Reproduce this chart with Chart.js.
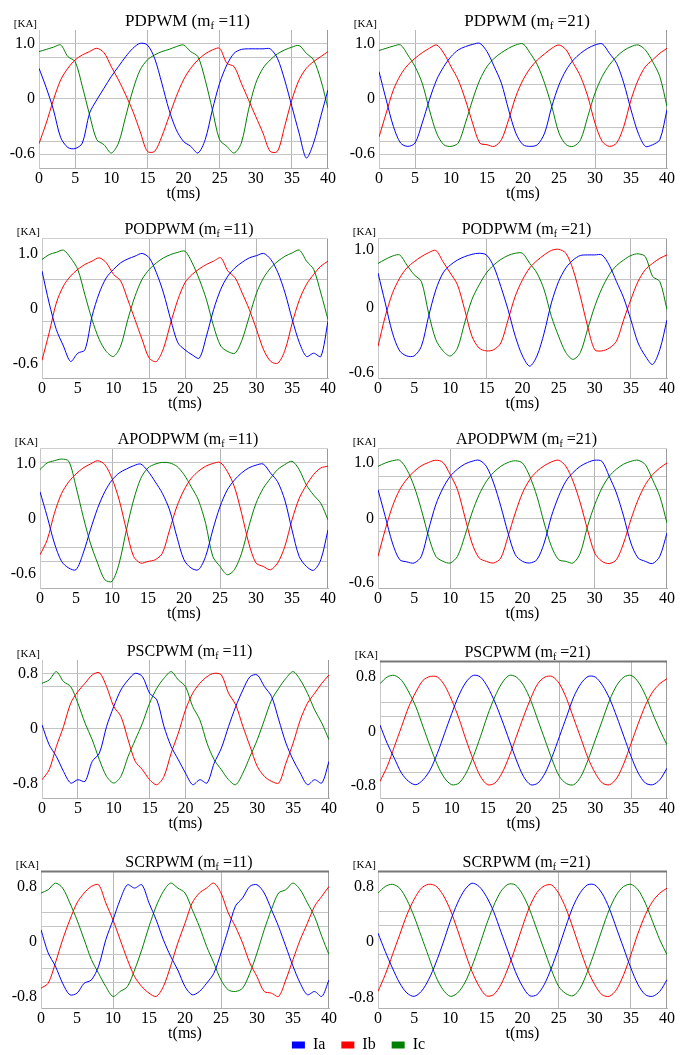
<!DOCTYPE html>
<html>
<head>
<meta charset="utf-8">
<script src="https://cdn.jsdelivr.net/npm/chart.js@4.4.0/dist/chart.umd.min.js"></script>
<style>
  body { margin: 0; background: #fff; width: 683px; height: 1055px; position: relative; overflow: hidden; }
  canvas { position: absolute; }
</style>
</head>
<body>
<script>
// time axis (ms), one sample per ms
const time = [0,1,2,3,4,5,6,7,8,9,10,11,12,13,14,15,16,17,18,19,20,21,22,23,24,25,26,27,28,29,30,31,32,33,34,35,36,37,38,39,40];
const xTicks = [0,5,10,15,20,25,30,35,40];

// currents, in units of the labelled gridlines (top label = 1, bottom label = -1)
// PDPWM mf=11
const pd11Ia = [0.55,0.2,-0.2,-0.7,-0.88,-0.9,-0.8,-0.26,-0.02,0.19, 0.4,0.58,0.76,0.91,1.0,0.97,0.73,0.28,-0.2,-0.56, -0.77,-0.86,-0.98,-0.74,-0.2,0.28,0.61,0.82,0.89,0.9, 0.9,0.9,0.9,0.73,0.34,-0.14,-0.62,-1.07,-0.8,-0.32, 0.16];
const pd11Ib = [-0.81,-0.44,-0.02,0.34,0.55,0.7,0.79,0.85,0.91,0.83, 0.58,0.34,0.07,-0.23,-0.59,-0.95,-0.95,-0.68,-0.32,0.04, 0.34,0.55,0.7,0.81,0.88,0.91,0.64,0.58,0.28,-0.02, -0.32,-0.62,-0.95,-0.95,-0.5,-0.02,0.34,0.55,0.67,0.76, 0.85];
const pd11Ic = [0.85,0.89,0.93,0.97,0.76,0.67,0.22,-0.29,-0.74,-0.83, -0.98,-0.8,-0.32,0.16,0.52,0.7,0.79,0.85,0.89,0.94, 0.97,0.85,0.76,0.34,-0.2,-0.74,-0.86,-0.98,-0.8,-0.2, 0.28,0.55,0.7,0.81,0.88,0.93,0.96,0.82,0.7,0.34, -0.17];
// PDPWM mf=21
const pd21Ia = [0.49,-0.02,-0.5,-0.8,-0.86,-0.8,-0.44,-0.02,0.34,0.58, 0.76,0.88,0.94,0.98,1.0,0.85,0.58,0.28,-0.2,-0.62, -0.83,-0.86,-0.83,-0.62,-0.14,0.25,0.52,0.7,0.82,0.91, 0.97,0.99,0.82,0.64,0.28,-0.2,-0.62,-0.86,-0.83,-0.74, -0.2];
const pd21Ib = [-0.69,-0.26,0.16,0.43,0.61,0.73,0.83,0.91,0.97,0.82, 0.58,0.34,-0.02,-0.44,-0.8,-0.83,-0.86,-0.74,-0.38,0.04, 0.34,0.55,0.7,0.81,0.91,0.97,0.88,0.64,0.4,0.04, -0.44,-0.77,-0.86,-0.8,-0.5,-0.02,0.34,0.58,0.7,0.82, 0.91];
const pd21Ic = [0.87,0.91,0.95,0.97,0.79,0.58,0.28,-0.2,-0.62,-0.83, -0.86,-0.8,-0.44,-0.02,0.34,0.58,0.73,0.83,0.91,0.97, 0.99,0.82,0.61,0.28,-0.14,-0.62,-0.83,-0.86,-0.74,-0.32, 0.1,0.4,0.61,0.76,0.87,0.94,0.97,0.88,0.67,0.4, -0.14];
// PODPWM mf=11
const pod11Ia = [0.68,0.1,-0.38,-0.68,-0.96,-0.81,-0.75,-0.14,0.28,0.56, 0.71,0.83,0.9,0.95,1.0,0.92,0.65,0.28,-0.2,-0.62, -0.75,-0.84,-0.9,-0.5,-0.02,0.35,0.59,0.74,0.84,0.92, 0.96,1.0,0.89,0.65,0.28,-0.2,-0.62,-0.87,-0.81,-0.87, -0.23];
const pod11Ib = [-0.94,-0.44,0.1,0.41,0.59,0.71,0.8,0.86,0.92,0.83, 0.62,0.5,0.16,-0.2,-0.56,-0.9,-0.96,-0.72,-0.26,0.16, 0.47,0.62,0.72,0.8,0.86,0.92,0.68,0.56,0.28,-0.02, -0.38,-0.75,-0.96,-0.99,-0.75,-0.26,0.16,0.44,0.62,0.77, 0.86];
const pod11Ic = [0.89,0.98,1.02,1.06,0.92,0.71,0.25,-0.2,-0.56,-0.78, -0.87,-0.68,-0.2,0.22,0.53,0.71,0.83,0.92,0.98,1.02, 1.04,0.83,0.53,0.16,-0.32,-0.68,-0.78,-0.81,-0.56,-0.14, 0.28,0.56,0.74,0.86,0.95,1.01,1.06,0.86,0.71,0.28, -0.2];
// PODPWM mf=21
const pod21Ia = [0.62,0.09,-0.44,-0.76,-0.85,-0.85,-0.68,-0.15,0.32,0.62, 0.76,0.85,0.91,0.95,0.97,0.94,0.74,0.38,-0.03,-0.5, -0.85,-1.03,-0.85,-0.44,0.09,0.47,0.71,0.85,0.93,0.94, 0.94,0.94,0.76,0.47,0.18,-0.21,-0.62,-0.85,-1.0,-0.74, -0.21];
const pod21Ib = [-0.68,-0.15,0.26,0.53,0.71,0.82,0.91,0.98,1.02,0.82, 0.62,0.41,-0.03,-0.5,-0.71,-0.76,-0.74,-0.62,-0.21,0.21, 0.5,0.71,0.84,0.94,1.02,1.04,0.97,0.68,0.21,-0.32, -0.74,-0.76,-0.71,-0.59,-0.21,0.15,0.47,0.68,0.79,0.88, 0.94];
const pod21Ic = [0.79,0.86,0.92,0.94,0.76,0.59,0.47,-0.09,-0.56,-0.76, -0.85,-0.71,-0.26,0.15,0.41,0.62,0.76,0.86,0.93,0.97, 0.97,0.79,0.62,0.32,-0.15,-0.5,-0.79,-0.91,-0.79,-0.38, 0.03,0.35,0.59,0.75,0.85,0.93,0.96,0.91,0.56,0.47, -0.03];
// APODPWM mf=11
const apod11Ia = [0.49,0.04,-0.44,-0.77,-0.89,-0.92,-0.62,-0.2,0.19,0.49, 0.7,0.83,0.9,0.96,0.99,0.86,0.67,0.46,0.16,-0.32, -0.74,-0.89,-0.92,-0.68,-0.2,0.22,0.52,0.7,0.83,0.92, 0.97,0.99,0.83,0.67,0.34,-0.2,-0.68,-0.86,-0.93,-0.74, -0.2];
const apod11Ib = [-0.65,-0.38,0.1,0.46,0.67,0.81,0.92,0.99,1.05,0.98, 0.73,0.34,-0.2,-0.68,-0.8,-0.77,-0.74,-0.62,-0.2,0.22, 0.52,0.73,0.86,0.95,1.0,1.02,0.86,0.58,0.1,-0.44, -0.8,-0.86,-0.92,-0.8,-0.5,-0.02,0.37,0.61,0.8,0.92, 0.95];
const apod11Ic = [0.89,1.01,1.05,1.08,1.04,0.58,0.04,-0.44,-0.8,-1.1, -1.13,-0.8,-0.2,0.34,0.73,0.92,0.99,1.02,1.01,0.95, 0.8,0.58,0.34,-0.08,-0.68,-0.86,-1.01,-0.92,-0.62,-0.14, 0.28,0.55,0.73,0.89,0.98,1.04,0.89,0.61,0.43,0.28, -0.02];
// APODPWM mf=21
const apod21Ia = [0.52,0.04,-0.44,-0.74,-0.78,-0.8,-0.68,-0.2,0.25,0.55, 0.76,0.89,0.98,1.03,1.05,0.94,0.64,0.22,-0.26,-0.65, -0.77,-0.8,-0.74,-0.44,0.04,0.4,0.67,0.83,0.94,1.01, 1.05,1.03,0.76,0.46,0.04,-0.44,-0.71,-0.77,-0.81,-0.68, -0.26];
const apod21Ib = [-0.68,-0.2,0.22,0.52,0.71,0.85,0.95,1.01,1.05,1.01, 0.79,0.52,0.04,-0.44,-0.71,-0.77,-0.8,-0.71,-0.32,0.1, 0.46,0.7,0.85,0.95,1.02,1.05,0.94,0.67,0.28,-0.2, -0.62,-0.77,-0.81,-0.74,-0.44,-0.02,0.34,0.61,0.79,0.91, 1.0];
const apod21Ic = [0.94,1.0,1.04,1.05,0.88,0.58,0.16,-0.32,-0.68,-0.77, -0.8,-0.68,-0.32,0.1,0.43,0.67,0.83,0.94,1.01,1.04, 1.0,0.76,0.4,-0.08,-0.5,-0.74,-0.77,-0.8,-0.62,-0.14, 0.25,0.55,0.76,0.89,0.98,1.03,1.05,0.97,0.7,0.4, -0.08];
// PSCPWM mf=11
const psc11Ia = [0.07,-0.29,-0.5,-0.77,-0.98,-0.92,-0.95,-0.59,-0.44,0.04, 0.4,0.7,0.88,1.0,0.94,0.64,0.52,0.04,-0.32,-0.56, -0.8,-1.01,-0.92,-0.98,-0.62,-0.35,0.04,0.4,0.7,0.94, 0.97,0.76,0.58,0.16,-0.26,-0.56,-0.8,-1.01,-0.92,-0.98, -0.59];
const psc11Ib = [-0.92,-0.74,-0.32,0.04,0.46,0.67,0.82,0.97,1.01,0.76, 0.4,0.22,-0.2,-0.59,-0.74,-0.92,-1.01,-0.86,-0.44,-0.08, 0.34,0.64,0.82,0.94,1.0,0.97,0.64,0.43,0.04,-0.32, -0.68,-0.86,-0.95,-0.98,-0.62,-0.26,0.16,0.46,0.64,0.82, 0.97];
const psc11Ic = [0.82,0.88,1.03,0.85,0.76,0.46,0.1,-0.2,-0.56,-0.86, -0.98,-0.86,-0.5,-0.2,0.1,0.46,0.73,0.91,1.03,0.88, 0.76,0.4,0.16,-0.26,-0.56,-0.74,-0.92,-1.01,-0.8,-0.5, -0.2,0.16,0.52,0.73,0.91,1.03,0.88,0.64,0.34,0.1, -0.2];
// PSCPWM mf=21
const psc21Ia = [0.1,-0.23,-0.5,-0.77,-0.92,-0.98,-0.89,-0.71,-0.41,-0.05, 0.31,0.64,0.88,1.0,0.97,0.79,0.52,0.19,-0.17,-0.53, -0.83,-0.98,-0.95,-0.77,-0.47,-0.11,0.25,0.61,0.85,0.98, 0.97,0.82,0.58,0.25,-0.11,-0.47,-0.77,-0.95,-0.98,-0.89, -0.68];
const psc21Ib = [-0.92,-0.65,-0.29,0.07,0.43,0.7,0.91,0.98,0.97,0.82, 0.55,0.22,-0.17,-0.53,-0.83,-0.98,-0.95,-0.77,-0.47,-0.11, 0.25,0.58,0.85,0.97,0.98,0.85,0.58,0.22,-0.14,-0.5, -0.77,-0.95,-0.98,-0.86,-0.59,-0.23,0.13,0.46,0.7,0.85, 0.94];
const psc21Ic = [0.85,0.97,1.0,0.91,0.7,0.43,0.07,-0.29,-0.62,-0.86, -0.98,-0.95,-0.77,-0.47,-0.11,0.28,0.61,0.86,1.0,0.97, 0.82,0.55,0.19,-0.17,-0.53,-0.83,-0.96,-0.98,-0.83,-0.53, -0.17,0.19,0.55,0.82,0.97,1.0,0.88,0.64,0.31,0.01, -0.26];
// SCRPWM mf=11
const scr11Ia = [0.21,-0.21,-0.45,-0.76,-0.97,-0.94,-0.76,-0.7,-0.45,0.03, 0.39,0.76,1.03,0.97,1.03,0.7,0.39,0.03,-0.27,-0.52, -0.82,-0.97,-0.91,-0.76,-0.58,-0.21,0.21,0.64,0.79,1.0, 1.03,0.88,0.58,0.27,-0.09,-0.45,-0.76,-0.97,-0.91,-1.0, -0.7];
const scr11Ib = [-0.85,-0.76,-0.39,0.03,0.39,0.7,0.88,1.0,1.03,0.7, 0.39,0.03,-0.33,-0.64,-0.82,-0.94,-1.0,-0.82,-0.45,-0.03, 0.33,0.7,0.88,0.97,1.06,0.88,0.52,0.27,-0.03,-0.39, -0.64,-0.91,-0.94,-1.0,-0.7,-0.33,0.03,0.33,0.64,0.82, 1.0];
const scr11Ic = [0.88,0.94,1.06,0.97,0.7,0.39,0.03,-0.33,-0.58,-0.82, -1.0,-0.91,-0.82,-0.52,-0.15,0.27,0.64,0.91,1.06,0.97, 0.88,0.58,0.27,-0.09,-0.39,-0.7,-0.88,-0.91,-0.85,-0.58, -0.21,0.21,0.58,0.88,0.94,1.06,0.94,0.7,0.45,0.09, -0.24];
// SCRPWM mf=21
const scr21Ia = [0.14,-0.19,-0.49,-0.76,-0.94,-1.0,-0.91,-0.7,-0.4,-0.04, 0.35,0.68,0.92,1.04,0.98,0.8,0.53,0.17,-0.19,-0.55, -0.82,-0.99,-0.97,-0.79,-0.49,-0.13,0.26,0.62,0.87,1.01, 1.01,0.86,0.59,0.23,-0.13,-0.49,-0.79,-0.97,-1.0,-0.91, -0.7];
const scr21Ib = [-0.91,-0.61,-0.25,0.11,0.47,0.75,0.95,1.02,0.99,0.83, 0.56,0.2,-0.19,-0.55,-0.82,-0.99,-0.97,-0.79,-0.49,-0.13, 0.26,0.62,0.87,0.99,1.01,0.86,0.59,0.23,-0.16,-0.52, -0.79,-0.97,-1.0,-0.88,-0.61,-0.25,0.14,0.47,0.71,0.86, 0.95];
const scr21Ic = [0.86,0.98,1.02,0.95,0.74,0.44,0.08,-0.28,-0.64,-0.88, -1.0,-0.94,-0.76,-0.46,-0.1,0.29,0.63,0.89,1.02,1.01, 0.84,0.56,0.2,-0.16,-0.52,-0.82,-0.95,-0.99,-0.85,-0.55, -0.19,0.2,0.56,0.83,0.98,1.02,0.92,0.68,0.35,0.02,-0.25];

// y tick texts
const labels10 = ['1.0', '0', '-0.6'];
const labels08 = ['0.8', '0', '-0.8'];

const seriesNames = ['Ia', 'Ib', 'Ic'];
const seriesColors = ['#0000ff', '#ff0000', '#008000'];

const FONT = '"Liberation Serif", "Times New Roman", serif';

// panel layout: box = [plot left, plot top, plot right, plot bottom] in page pixels
const panels = [
    { name: 'PDPWM', mf: '11', data: [pd11Ia, pd11Ib, pd11Ic], box: [39, 30, 328, 168], row: 0, y: [-1.25, 1.24], lab: [1, 0, -1], txt: labels10, grid: [1, 0.75, 0, -0.77, -1], xGrid: [5, 15, 25, 35], top: 'none', tSize: 17 },
    { name: 'PDPWM', mf: '21', data: [pd21Ia, pd21Ib, pd21Ic], box: [379, 30, 667, 168], row: 0, y: [-1.25, 1.24], lab: [1, 0, -1], txt: labels10, grid: [1, 0.25, 0, -0.52, -0.77, -1], xGrid: [5, 30], top: 'none', tSize: 17 },
    { name: 'PODPWM', mf: '11', data: [pod11Ia, pod11Ib, pod11Ic], box: [42, 238, 328, 378], row: 1, y: [-1.26, 1.28], lab: [1, 0, -1], txt: labels10, grid: [0.53, -0.24, -0.49], xGrid: [15, 20, 30], top: 'light', tSize: 16 },
    { name: 'PODPWM', mf: '21', data: [pod21Ia, pod21Ib, pod21Ic], box: [378, 238, 667, 378], row: 1, y: [-1.24, 1.24], lab: [1.03, 0, -1.14], txt: labels10, grid: [0.5, -0.25], xGrid: [15, 35], top: 'light', tSize: 16 },
    { name: 'APODPWM', mf: '11', data: [apod11Ia, apod11Ib, apod11Ic], box: [40, 448, 328, 588], row: 2, y: [-1.25, 1.28], lab: [1, 0, -1], txt: labels10, grid: [1.02, 0.25, -0.52, -0.77], xGrid: [10, 25], top: 'light', tSize: 16 },
    { name: 'APODPWM', mf: '21', data: [apod21Ia, apod21Ib, apod21Ic], box: [378, 448, 667, 588], row: 2, y: [-1.25, 1.27], lab: [1, 0, -1.16], txt: labels10, grid: [0.76, 0.52, 0, -0.24], xGrid: [10, 30], top: 'light', tSize: 16 },
    { name: 'PSCPWM', mf: '11', data: [psc11Ia, psc11Ib, psc11Ic], box: [42, 660, 329, 798], row: 3, y: [-1.25, 1.24], lab: [1, 0, -1], txt: labels08, grid: [1, 0.76, 0], xGrid: [5, 15, 20], top: 'none', tSize: 16 },
    { name: 'PSCPWM', mf: '21', data: [psc21Ia, psc21Ib, psc21Ic], box: [380, 661, 667, 798], row: 3, y: [-1.22, 1.26], lab: [0.98, -0.02, -1], txt: labels08, grid: [0.5, 0.25, -0.26, -0.51, -0.75], xGrid: [25, 35], top: 'dark', tSize: 16 },
    { name: 'SCRPWM', mf: '11', data: [scr11Ia, scr11Ib, scr11Ic], box: [41, 871, 329, 1008], row: 4, y: [-1.21, 1.28], lab: [1, 0, -1], txt: labels08, grid: [0.53, 0.27, -0.24, -0.5, -0.75], xGrid: [10, 25], top: 'dark', tSize: 16 },
    { name: 'SCRPWM', mf: '21', data: [scr21Ia, scr21Ib, scr21Ic], box: [378, 871, 667, 1008], row: 4, y: [-1.21, 1.26], lab: [0.98, -0.01, -1.03], txt: labels08, grid: [0.53, 0.27, -0.24, -0.5, -0.75], xGrid: [25, 35], top: 'dark', tSize: 16 }
];

const ROW_H = 210;
const CANVAS_W = 340;
const XAXIS_H = 40;

// title with subscript f, [KA] unit, frame lines
const panelDecor = {
    id: 'panelDecor',
    beforeDatasetsDraw(chart, args, opts) {
        const { ctx, chartArea: a } = chart;
        ctx.save();
        ctx.lineWidth = 1;
        ctx.strokeStyle = '#9a9a9a';
        ctx.beginPath();
        ctx.moveTo(a.right - 0.5, a.top);
        ctx.lineTo(a.right - 0.5, a.bottom);
        ctx.stroke();
        if (opts.top !== 'none') {
            ctx.strokeStyle = opts.top === 'dark' ? '#777' : '#cfcfcf';
            ctx.lineWidth = opts.top === 'dark' ? 2 : 1;
            ctx.beginPath();
            ctx.moveTo(a.left, a.top + 0.5);
            ctx.lineTo(a.right, a.top + 0.5);
            ctx.stroke();
        }
        ctx.restore();
    },
    afterDraw(chart, args, opts) {
        const { ctx, chartArea: a } = chart;
        ctx.save();
        ctx.fillStyle = '#000';
        ctx.textBaseline = 'middle';

        // title: NAME (m_f =NN)
        const big = opts.tSize + 'px ' + FONT;
        const small = Math.round(opts.tSize * 0.62) + 'px ' + FONT;
        const p1 = opts.name + ' (m', p2 = 'f', p3 = ' =' + opts.mf + ')';
        ctx.font = big;
        const w1 = ctx.measureText(p1).width, w3 = ctx.measureText(p3).width;
        ctx.font = small;
        const w2 = ctx.measureText(p2).width;
        let x = (a.left + a.right) / 2 + 4 - (w1 + w2 + w3) / 2;
        const y = a.top - 8;
        ctx.textAlign = 'left';
        ctx.font = big;
        ctx.fillText(p1, x, y);
        x += w1;
        ctx.font = small;
        ctx.fillText(p2, x, y + 4);
        x += w2;
        ctx.font = big;
        ctx.fillText(p3, x, y);

        // unit
        ctx.font = '11px ' + FONT;
        ctx.textAlign = 'right';
        ctx.fillText('[KA]', a.left - 2, a.top - 6);
        ctx.restore();
    }
};

panels.forEach((p) => {
    const colX = p.box[0] < 340 ? 0 : 340;
    const rowY = p.row * ROW_H;
    const canvas = document.createElement('canvas');
    canvas.width = CANVAS_W;
    canvas.height = p.box[3] - rowY + XAXIS_H;
    canvas.style.left = colX + 'px';
    canvas.style.top = rowY + 'px';
    document.body.appendChild(canvas);

    const yTickVals = [...new Set([...p.lab, ...p.grid])].sort((a, b) => a - b);
    const near = (arr, v) => arr.findIndex(q => Math.abs(q - v) < 1e-6);

    new Chart(canvas, {
        type: 'line',
        data: {
            datasets: p.data.map((arr, k) => ({
                label: seriesNames[k],
                data: time.map((t, i) => ({ x: t, y: arr[i] })),
                borderColor: seriesColors[k],
                backgroundColor: seriesColors[k],
                borderWidth: 1,
                pointRadius: 0,
                tension: 0.3,
                fill: false
            }))
        },
        options: {
            responsive: false,
            animation: false,
            layout: {
                padding: { top: p.box[1] - rowY, right: colX + CANVAS_W - p.box[2], left: 0, bottom: 0 }
            },
            plugins: {
                legend: { display: false },
                tooltip: { enabled: false },
                panelDecor: { name: p.name, mf: p.mf, top: p.top, tSize: p.tSize }
            },
            scales: {
                x: {
                    type: 'linear',
                    min: 0,
                    max: 40,
                    afterBuildTicks: (s) => { s.ticks = xTicks.map(v => ({ value: v })); },
                    ticks: { autoSkip: false, maxRotation: 0, padding: 1, color: '#000', font: { family: FONT, size: 16 } },
                    grid: {
                        drawTicks: false,
                        color: (c) => (c.tick && p.xGrid.includes(c.tick.value)) ? '#b5b5b5' : 'rgba(0,0,0,0)'
                    },
                    border: { color: '#b0b0b0' },
                    title: { display: true, text: 't(ms)', color: '#000', font: { family: FONT, size: 16 }, padding: { top: 0, bottom: 5 } },
                    afterFit: (s) => { s.height = XAXIS_H; }
                },
                y: {
                    type: 'linear',
                    min: p.y[0],
                    max: p.y[1],
                    afterBuildTicks: (s) => { s.ticks = yTickVals.map(v => ({ value: v })); },
                    ticks: {
                        autoSkip: false,
                        padding: 4,
                        color: '#000',
                        font: { family: FONT, size: 16 },
                        callback: (v) => { const i = near(p.lab, v); return i >= 0 ? p.txt[i] : ''; }
                    },
                    grid: {
                        drawTicks: false,
                        color: (c) => (c.tick && near(p.grid, c.tick.value) >= 0) ? '#c4c4c4' : 'rgba(0,0,0,0)'
                    },
                    border: { color: '#c8c8c8' },
                    afterFit: (s) => { s.width = p.box[0] - colX; }
                }
            }
        },
        plugins: [panelDecor]
    });
});

// shared legend at the bottom (canvas taller than the page, bottom part is clipped)
const legendCanvas = document.createElement('canvas');
legendCanvas.width = 683;
legendCanvas.height = 90;
legendCanvas.style.left = '17px';
legendCanvas.style.top = '1021px';
document.body.appendChild(legendCanvas);
new Chart(legendCanvas, {
    type: 'line',
    data: {
        labels: [],
        datasets: seriesNames.map((n, k) => ({ label: n, data: [], borderColor: seriesColors[k], backgroundColor: seriesColors[k], borderWidth: 0 }))
    },
    options: {
        responsive: false,
        animation: false,
        layout: { padding: 0 },
        plugins: {
            tooltip: { enabled: false },
            legend: {
                display: true,
                position: 'top',
                labels: { boxWidth: 13, boxHeight: 7, padding: 16, color: '#000', font: { family: FONT, size: 16 } }
            }
        },
        scales: { x: { display: false }, y: { display: false } }
    }
});
</script>
</body>
</html>
